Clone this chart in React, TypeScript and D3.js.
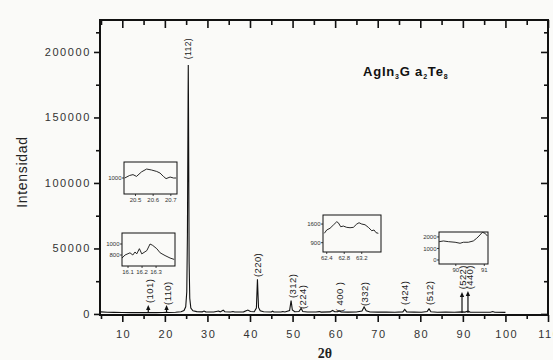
import React, { useEffect, useRef } from 'react';
import * as d3 from 'd3';

const width = 553,
  height = 360;

// main XRD pattern (2θ in degrees, counts)
const twoTheta = [
  5.0, 6.5, 8, 10, 12, 14, 15.5, 16.1, 16.5, 18, 19.5, 20.4, 21, 22.5, 23.8, 24.5, 24.9, 25.15, 25.3, 25.46,
  25.5, 25.54, 25.7, 25.85, 26.1, 26.6, 27.5, 28.8, 29.2, 29.6, 31.5, 32.6, 33.0, 33.7, 34.1, 35.5, 36.0,
  36.4, 38.5, 39.5, 40.1, 41.0, 41.5, 41.75, 42.0, 42.4, 43.2, 45.0, 45.3, 45.6, 47.3, 47.7, 48.2, 49.3,
  49.65, 49.95, 50.5, 51.5, 52.0, 52.4, 53.5, 55.5, 56.3, 56.7, 58.8, 59.4, 59.9, 60.6, 61.0, 61.4, 63.0,
  65.0, 66.3, 66.8, 67.3, 68.2, 70.0, 72.0, 74.0, 75.9, 76.35, 76.8, 78.5, 80.3, 81.6, 82.05, 82.5, 84.0,
  86.0, 88.0, 89.8, 90.5, 91.2, 91.7, 93.5, 96.5, 97.0, 97.5, 100.0,
];
const intensity = [
  1600, 1300, 1200, 1100, 1050, 1000, 1000, 1100, 1000, 1050, 1100, 1300, 1100, 1300, 1700, 2600, 5500,
  17000, 60000, 168000, 190000, 168000, 40000, 12000, 4500, 2400, 1800, 1600, 2200, 1600, 1500, 2200, 1600,
  2900, 1700, 1500, 1900, 1500, 1600, 3000, 1900, 1700, 4500, 26500, 5000, 2400, 1700, 1500, 2100, 1500,
  1500, 1900, 1500, 2600, 10200, 3000, 1700, 1900, 4300, 1900, 1500, 1500, 1800, 1400, 1600, 2700, 1700,
  1800, 2300, 1500, 1400, 1500, 2300, 5300, 2400, 1500, 1400, 1400, 1300, 1600, 3500, 1600, 1400, 1300,
  1800, 3900, 1700, 1300, 1400, 1300, 1600, 1400, 2100, 1400, 1300, 1300, 1900, 1300, 1200,
];

// reflections
const peakLabels = ['(112)', '(220)', '(312)', '(224)', '( 400 )', '(332)', '(424)', '(512)', '(522)', '(440)', '(101)', '(110)'];
const peakTheta = [25.5, 41.75, 49.9, 52.4, 61.0, 66.9, 76.4, 82.2, 89.8, 91.5, 16.3, 20.6];
const peakLabelBase = [194500, 28200, 12200, 3800, 1500, 6100, 6900, 6900, 18800, 18800, 8400, 6900];

// arrows for weak reflections
const arrowTheta = [16.1, 20.4, 89.8, 91.2];
const arrowTop = [6900, 6900, 16800, 17500];

const xTicks = [10, 20, 30, 40, 50, 60, 70, 80, 90, 100, 110];
const xMinor = [5, 15, 25, 35, 45, 55, 65, 75, 85, 95, 105];
const yTicks = [0, 50000, 100000, 150000, 200000];
const yMinor = [25000, 75000, 125000, 175000, 215000];

// insets
const insetATheta = [20.439, 20.467, 20.486, 20.506, 20.534, 20.563, 20.591, 20.62, 20.639, 20.658, 20.673, 20.696, 20.715, 20.73];
const insetACounts = [1000, 1016, 1021, 1010, 1038, 1056, 1050, 1041, 1031, 1010, 996, 1006, 1000, 1000];
const insetAXTicks = [20.5, 20.6, 20.7];
const insetAYTicks = [1000];

const insetBTheta = [16.057, 16.079, 16.114, 16.134, 16.15, 16.162, 16.181, 16.198, 16.234, 16.257, 16.276, 16.305, 16.329, 16.364, 16.4, 16.429];
const insetBCounts = [745, 800, 840, 800, 855, 820, 915, 820, 880, 1000, 975, 915, 840, 790, 745, 720];
const insetBXTicks = [16.1, 16.2, 16.3];
const insetBYTicks = [800, 1000];

const insetCTheta = [62.345, 62.4, 62.475, 62.551, 62.629, 62.665, 62.72, 62.779, 62.857, 62.933, 63.008, 63.086, 63.138, 63.2, 63.275, 63.351, 63.429, 63.481, 63.527, 63.579];
const insetCCounts = [1252, 1377, 1441, 1563, 1686, 1649, 1499, 1525, 1476, 1462, 1476, 1600, 1649, 1600, 1574, 1476, 1349, 1377, 1275, 1252];
const insetCXTicks = [62.4, 62.8, 63.2];
const insetCYTicks = [900, 1600];

const insetDTheta = [89.416, 89.566, 89.741, 89.976, 90.15, 90.266, 90.44, 90.615, 90.734, 90.85, 90.93, 91.024, 91.105];
const insetDCounts = [1591, 1652, 1591, 1539, 1452, 1539, 1539, 1652, 1887, 2174, 2400, 2322, 2087];
const insetDXTicks = [90, 91];
const insetDYTicks = [0, 1000, 2000];

const ink = '#111';
const tickFont = '"Liberation Sans", Arial, sans-serif';

function App() {
  const ref = useRef<SVGSVGElement>(null);

  useEffect(() => {
    const svg = d3.select(ref.current);
    svg.selectAll('*').remove();

    const left = 100, right = 548, top = 20, bottom = 315;
    const x = d3.scaleLinear().domain([5, 110]).range([101, right]);
    const y = d3.scaleLinear().domain([-800, 224400]).range([bottom, top]);

    svg.append('rect').attr('width', width).attr('height', height).attr('fill', '#fafaf8');

    // axes
    const styleAxis = (g: any) => {
      g.select('.domain').remove();
      g.selectAll('line').attr('stroke', ink).attr('stroke-width', 1.6);
      g.selectAll('text')
        .attr('fill', '#333')
        .style('font-family', tickFont)
        .style('font-size', '11px')
        .style('letter-spacing', '1.6px');
    };

    svg.append('g').attr('transform', `translate(0,${bottom})`)
      .call(d3.axisBottom(x).tickValues(xTicks).tickSize(7).tickPadding(8).tickFormat(d3.format('d')))
      .call(styleAxis)
      .selectAll('text').attr('dx', '0.8px');
    svg.append('g').attr('transform', `translate(0,${bottom})`)
      .call(d3.axisBottom(x).tickValues(xMinor).tickSize(4).tickFormat(() => ''))
      .call(styleAxis);
    svg.append('g').attr('transform', `translate(${left},0)`)
      .call(d3.axisLeft(y).tickValues(yTicks).tickSize(6).tickPadding(3).tickFormat(d3.format('d')))
      .call(styleAxis);
    svg.append('g').attr('transform', `translate(${left},0)`)
      .call(d3.axisLeft(y).tickValues(yMinor).tickSize(4).tickFormat(() => ''))
      .call(styleAxis);
    // mirrored axes, ticks inward
    svg.append('g').attr('transform', `translate(0,${top})`)
      .call(d3.axisTop(x).tickValues(xTicks).tickSize(-8).tickFormat(() => ''))
      .call(styleAxis);
    svg.append('g').attr('transform', `translate(0,${top})`)
      .call(d3.axisTop(x).tickValues(xMinor).tickSize(-5).tickFormat(() => ''))
      .call(styleAxis);
    svg.append('g').attr('transform', `translate(${right},0)`)
      .call(d3.axisRight(y).tickValues(yTicks).tickSize(-7).tickFormat(() => ''))
      .call(styleAxis);
    svg.append('g').attr('transform', `translate(${right},0)`)
      .call(d3.axisRight(y).tickValues(yMinor).tickSize(-4).tickFormat(() => ''))
      .call(styleAxis);

    svg.append('rect')
      .attr('x', left).attr('y', top)
      .attr('width', right - left).attr('height', bottom - top)
      .attr('fill', 'none').attr('stroke', ink).attr('stroke-width', 2);

    // pattern
    const pts = twoTheta.map((t, i) => [t, intensity[i]] as [number, number]);
    const line = d3.line<[number, number]>().x((d) => x(d[0])).y((d) => y(d[1]));
    svg.append('path').datum(pts)
      .attr('d', line)
      .attr('fill', 'none').attr('stroke', ink).attr('stroke-width', 1.1);

    // arrows
    arrowTheta.forEach((t, i) => {
      const ax = x(t), y0 = y(800), y1 = y(arrowTop[i]);
      svg.append('line')
        .attr('x1', ax).attr('x2', ax).attr('y1', y0).attr('y2', y1 + 3)
        .attr('stroke', ink).attr('stroke-width', 1.2);
      svg.append('path')
        .attr('d', `M${ax - 2.2},${y1 + 5}L${ax},${y1}L${ax + 2.2},${y1 + 5}Z`)
        .attr('fill', ink);
    });

    // reflection labels
    peakLabels.forEach((lab, i) => {
      const lx = x(peakTheta[i]), ly = y(peakLabelBase[i]);
      svg.append('text')
        .attr('transform', `translate(${lx},${ly}) rotate(-90)`)
        .attr('dominant-baseline', 'central')
        .style('font-family', tickFont)
        .style('font-size', i === 0 ? '8.5px' : '9.5px')
        .style('letter-spacing', '0.4px')
        .attr('fill', '#222')
        .text(lab);
    });

    // axis titles
    svg.append('text')
      .attr('transform', `translate(27,172) rotate(-90)`)
      .attr('text-anchor', 'middle')
      .style('font-family', tickFont)
      .style('font-size', '14px')
      .style('letter-spacing', '0.7px')
      .attr('fill', '#222')
      .text('Intensidad');
    svg.append('text')
      .attr('x', 325).attr('y', 358)
      .attr('text-anchor', 'middle')
      .style('font-family', '"Liberation Serif", serif')
      .style('font-size', '14px')
      .style('font-weight', 'bold')
      .attr('fill', '#222')
      .text('2θ');

    // compound name
    const title = svg.append('text')
      .attr('x', 363).attr('y', 76)
      .style('font-family', tickFont)
      .style('font-weight', 'bold')
      .style('font-size', '13px')
      .style('letter-spacing', '0.8px')
      .attr('fill', ink);
    const parts: [string, boolean][] = [['AgIn', false], ['3', true], ['G a', false], ['2', true], ['Te', false], ['8', true]];
    parts.forEach(([s, sub]) => {
      title.append('tspan')
        .attr('dy', sub ? 3 : -3)
        .style('font-size', sub ? '7px' : '13px')
        .text(s);
    });
    title.select('tspan').attr('dy', 0);

    // insets
    const drawInset = (
      bx0: number, by0: number, bx1: number, by1: number,
      xd: [number, number], yd: [number, number],
      th: number[], cn: number[], xt: number[], yt: number[], fmt: (v: number) => string,
    ) => {
      const ix = d3.scaleLinear().domain(xd).range([bx0, bx1]);
      const iy = d3.scaleLinear().domain(yd).range([by1, by0]);
      const g = svg.append('g');
      g.append('rect')
        .attr('x', bx0).attr('y', by0).attr('width', bx1 - bx0).attr('height', by1 - by0)
        .attr('fill', '#fafaf8').attr('stroke', ink).attr('stroke-width', 1);
      const ip = th.map((t, i) => [t, cn[i]] as [number, number]);
      g.append('path').datum(ip)
        .attr('d', d3.line<[number, number]>().x((d) => ix(d[0])).y((d) => iy(d[1])))
        .attr('fill', 'none').attr('stroke', ink).attr('stroke-width', 0.9);
      xt.forEach((v) => {
        g.append('line').attr('x1', ix(v)).attr('x2', ix(v)).attr('y1', by1).attr('y2', by1 + 2)
          .attr('stroke', ink).attr('stroke-width', 0.8);
        g.append('text').attr('x', ix(v)).attr('y', by1 + 8)
          .attr('text-anchor', 'middle')
          .style('font-family', tickFont).style('font-size', '6px')
          .attr('fill', '#333').text(fmt(v));
      });
      yt.forEach((v) => {
        g.append('line').attr('x1', bx0 - 2).attr('x2', bx0).attr('y1', iy(v)).attr('y2', iy(v))
          .attr('stroke', ink).attr('stroke-width', 0.8);
        g.append('text').attr('x', bx0 - 2.5).attr('y', iy(v)).attr('dy', '0.35em')
          .attr('text-anchor', 'end')
          .style('font-family', tickFont).style('font-size', '6px')
          .attr('fill', '#333').text(String(v));
      });
    };

    drawInset(124, 162, 177, 194, [20.435, 20.735], [900, 1100], insetATheta, insetACounts, insetAXTicks, insetAYTicks, d3.format('.1f'));
    drawInset(122, 233, 175, 266, [16.057, 16.435], [600, 1200], insetBTheta, insetBCounts, insetBXTicks, insetBYTicks, d3.format('.1f'));
    drawInset(323, 215, 381, 252, [62.315, 63.64], [550, 1940], insetCTheta, insetCCounts, insetCXTicks, insetCYTicks, d3.format('.1f'));
    drawInset(439, 232, 488, 264, [89.41, 91.13], [-350, 2430], insetDTheta, insetDCounts, insetDXTicks, insetDYTicks, d3.format('d'));
  }, []);

  return (
    <svg
      ref={ref}
      width={width}
      height={height}
      style={{ position: 'absolute', left: 0, top: 0, display: 'block' }}
    />
  );
}

export default App;
